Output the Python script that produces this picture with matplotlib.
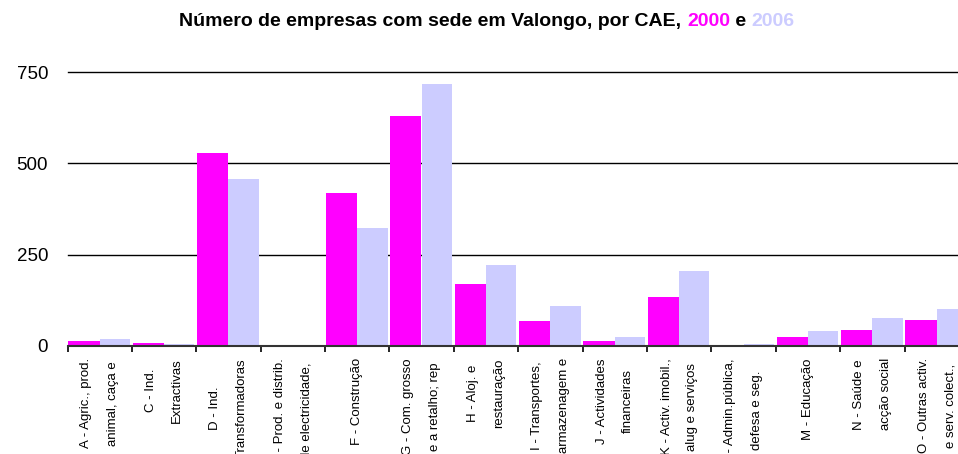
import matplotlib
matplotlib.use("Agg")
import matplotlib.pyplot as plt
import numpy as np
from matplotlib import font_manager

# Data
categories = [
    "A - Agric., prod.\nanimal, caça e",
    "C - Ind.\nExtractivas",
    "D - Ind.\nTransformadoras",
    "E - Prod. e distrib.\nde electricidade,",
    "F - Construção",
    "G - Com. grosso\ne a retalho; rep",
    "H - Aloj. e\nrestauração",
    "I - Transportes,\narmazenagem e",
    "J - Actividades\nfinanceiras",
    "K - Activ. imobil.,\nalug e serviços",
    "L - Admin.pública,\ndefesa e seg.",
    "M - Educação",
    "N - Saúde e\nacção social",
    "O - Outras activ.\ne serv. colect.,",
]
empresas_2000 = [14, 8, 529, 0, 419, 630, 169, 68, 13, 134, 0, 25, 44, 71]
empresas_2006 = [19, 4, 457, 0, 323, 718, 222, 109, 24, 205, 5, 41, 77, 101]
yticks = [0, 250, 500, 750]

c2000 = "#FF00FF"
c2006 = "#CCCCFF"

names = {f.name for f in font_manager.fontManager.ttflist}
narrow = "Liberation Sans Narrow" if "Liberation Sans Narrow" in names else "Liberation Sans"

W, H = 958, 454
fig = plt.figure(figsize=(W / 100, H / 100), dpi=100)
ax = fig.add_axes([67.5 / W, (H - 345.7) / H, 901.5 / W, 273.4 / H])

x = np.arange(len(categories))
ax.bar(x - 0.245, empresas_2000, width=0.485, color=c2000, linewidth=0)
ax.bar(x + 0.235, empresas_2006, width=0.47, color=c2006, linewidth=0)

ax.set_xlim(-0.5, len(categories) - 0.5)
ax.set_ylim(0, 750)
ax.set_yticks(yticks)
ax.set_yticklabels([str(v) for v in yticks], fontfamily="Liberation Sans", fontsize=13.5)
ax.tick_params(axis="y", length=0, pad=14)
for v in yticks[1:]:
    ax.axhline(v, color="black", lw=1.0, zorder=0, clip_on=False)

ax.set_xticks(x)
ax.set_xticklabels(categories, rotation=90, ha="center", va="top",
                   multialignment="center", linespacing=2.6,
                   fontfamily=narrow, fontsize=9.5)
ax.tick_params(axis="x", which="major", length=0, pad=9)
ax.set_xticks(np.arange(len(categories) + 1) - 0.5, minor=True)
ax.tick_params(axis="x", which="minor", length=4, width=1.2, color="black", direction="out")

for s in ["top", "right", "left"]:
    ax.spines[s].set_visible(False)
ax.spines["bottom"].set_linewidth(1.5)
ax.spines["bottom"].set_color("#333333")

# Title in three colours
parts = [("Número de empresas com sede em Valongo, por CAE, ", "black"),
         ("2000", c2000), (" e ", "black"), ("2006", c2006)]
fig.canvas.draw()
renderer = fig.canvas.get_renderer()
texts = []
for s, col in parts:
    t = fig.text(0, 1 - 21 / H, s, color=col, fontweight="bold", fontsize=14,
                 fontfamily="Liberation Sans", va="center", ha="left")
    texts.append(t)
widths = [t.get_window_extent(renderer).width for t in texts]
total = sum(widths)
xpos = 487 - total / 2
for t, w in zip(texts, widths):
    t.set_x(xpos / W)
    xpos += w

fig.savefig("out.png", dpi=100)
